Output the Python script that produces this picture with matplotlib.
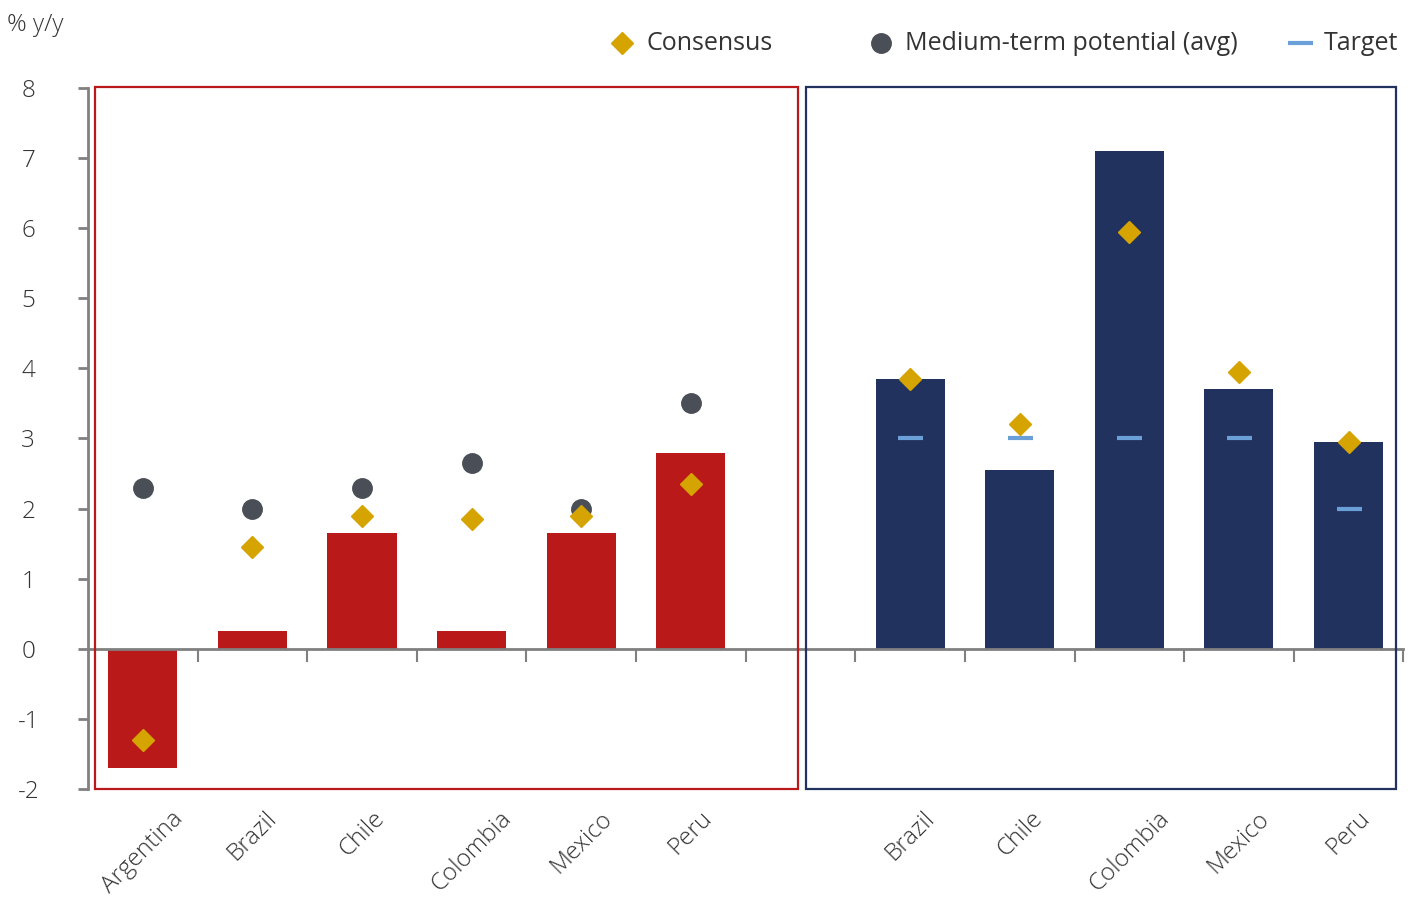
import numpy as np
import matplotlib
matplotlib.use('Agg')
import matplotlib.pyplot as plt
from matplotlib.patches import Rectangle

# growth block (left) and inflation block (right)
gdp_countries = ['Argentina', 'Brazil', 'Chile', 'Colombia', 'Mexico', 'Peru']
gdp_forecast = [-1.7, 0.25, 1.65, 0.25, 1.65, 2.8]
gdp_consensus = [-1.3, 1.45, 1.9, 1.85, 1.9, 2.35]
gdp_potential = [2.3, 2.0, 2.3, 2.65, 2.0, 3.5]

cpi_countries = ['Brazil', 'Chile', 'Colombia', 'Mexico', 'Peru']
cpi_forecast = [3.85, 2.55, 7.1, 3.7, 2.95]
cpi_consensus = [3.85, 3.2, 5.95, 3.95, 2.95]
cpi_target = [3, 3, 3, 3, 2]

yticks = list(range(-2, 9))

RED = '#b91919'
NAVY = '#21325e'
GOLD = '#d6a400'
DOT = '#4a4f57'
TGT = '#6a9fd8'
AXC = '#808080'
TXT = '#333333'

plt.rcParams['font.family'] = ['Open Sans', 'DejaVu Sans']
plt.rcParams['axes.unicode_minus'] = False
FS = 17.5

fig = plt.figure(figsize=(14.19, 8.99), dpi=100)
ax = fig.add_axes([0.062, 0.1224, 0.927, 0.7797])

x_gdp = np.arange(len(gdp_countries))
x_cpi = np.arange(len(gdp_countries) + 1, len(gdp_countries) + 1 + len(cpi_countries))

ax.bar(x_gdp, gdp_forecast, width=0.63, color=RED, zorder=2)
ax.bar(x_cpi, cpi_forecast, width=0.63, color=NAVY, zorder=2)

ax.plot(x_gdp, gdp_potential, 'o', color=DOT, markersize=14, zorder=3, linestyle='none')
ax.plot(x_gdp, gdp_consensus, 'D', color=GOLD, markersize=11, zorder=4, linestyle='none')
ax.plot(x_cpi, cpi_target, '_', color=TGT, markersize=18, mew=3, zorder=3, linestyle='none')
ax.plot(x_cpi, cpi_consensus, 'D', color=GOLD, markersize=11, zorder=4, linestyle='none')

ax.set_xlim(-0.5, 11.5)
ax.set_ylim(-2, 8)

for s in ['top', 'right']:
    ax.spines[s].set_visible(False)
ax.spines['bottom'].set_position(('data', 0))
for s in ['left', 'bottom']:
    ax.spines[s].set_color(AXC)
    ax.spines[s].set_linewidth(2)

ax.set_xticks(np.arange(0.5, 12, 1))
ax.set_xticklabels([])
ax.tick_params(axis='x', direction='out', length=9, width=1.5, color=AXC)
ax.set_yticks(yticks)
ax.tick_params(axis='y', direction='out', length=7, width=2, color=AXC,
               labelsize=FS, labelcolor=TXT, pad=0)
for lab in ax.get_yticklabels():
    lab.set_fontweight('light')
    lab.set_horizontalalignment('center')
    lab.set_x(-0.038)

for x, name in zip(list(x_gdp) + list(x_cpi), gdp_countries + cpi_countries):
    ax.text(x, -2.25, name, rotation=45, ha='center', va='top', fontsize=FS,
            color=TXT, fontweight='light')

# group frames
ax.add_patch(Rectangle((-0.44, -2), 6.42, 10.02, fill=False, edgecolor=RED,
                       linewidth=1.6, clip_on=False, zorder=5))
ax.add_patch(Rectangle((6.05, -2), 5.38, 10.02, fill=False, edgecolor=NAVY,
                       linewidth=1.6, clip_on=False, zorder=5))

# legend laid out by hand, fixed slots like the original
leg_y = 0.952
leg_items = [
    (0.4383, 'D', GOLD, dict(markersize=11), 'Consensus'),
    (0.6209, 'o', DOT, dict(markersize=14), 'Medium-term potential (avg)'),
    (0.9161, '_', TGT, dict(markersize=18, mew=3), 'Target'),
]
for lx, mk, col, kw, label in leg_items:
    fig.add_artist(plt.Line2D([lx], [leg_y], marker=mk, color=col, linestyle='none',
                              transform=fig.transFigure, **kw))
    fig.text(lx + 0.017, leg_y, label, fontsize=FS + 0.5, color=TXT,
             va='center', ha='left')

fig.text(0.005, 0.965, '% y/y', fontsize=FS, color=TXT, fontweight='light')

fig.savefig('out.png', dpi=100)
